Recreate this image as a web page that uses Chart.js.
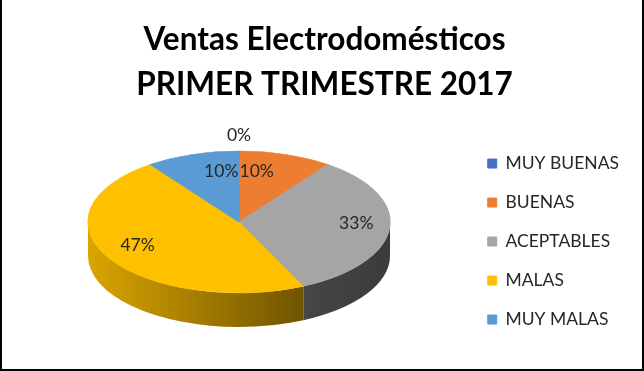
<!DOCTYPE html>
<html>
<head>
<meta charset="utf-8">
<script src="https://cdn.jsdelivr.net/npm/chart.js@4.4.1/dist/chart.umd.min.js"></script>
<style>
  html, body { margin: 0; padding: 0; background: #fff; }
  #wrap { position: relative; width: 644px; height: 371px; }
  #chart { display: block; }
  #frame {
    position: absolute; left: 0; top: 0; width: 644px; height: 371px;
    box-sizing: border-box; border: 2px solid #000; border-top: none;
    pointer-events: none;
  }
</style>
</head>
<body>
<div id="wrap">
  <canvas id="chart" width="644" height="371"></canvas>
  <div id="frame"></div>
</div>
<script>
// Data
const TITLE_LINES = ['Ventas Electrodomésticos', 'PRIMER TRIMESTRE 2017'];
const CATEGORIES = ['MUY BUENAS', 'BUENAS', 'ACEPTABLES', 'MALAS', 'MUY MALAS'];
const PERCENTS = [0, 10, 33, 47, 10];
const COLORS = ['#4472C4', '#ED7D31', '#A5A5A5', '#FFC000', '#5B9BD5'];

// Where the tilted pie sits on the page (ellipse + wall height)
const PIE = { cx: 239, cy: 222, rx: 151, ry: 71, depth: 34 };

function shade(hex, f) {
    const n = parseInt(hex.slice(1), 16);
    const r = Math.round(((n >> 16) & 255) * f);
    const g = Math.round(((n >> 8) & 255) * f);
    const b = Math.round((n & 255) * f);
    return `rgb(${r},${g},${b})`;
}

// Squash the library's pie into a tilted disc and add the front wall
const tiltedPie = {
    id: 'tiltedPie',
    beforeDatasetsDraw(chart) {
        const ctx = chart.ctx;
        const arcs = chart.getDatasetMeta(0).data;
        const { x, y, outerRadius } = arcs[0];

        // only the front half (0..PI) of the wall is visible
        arcs.forEach((arc, i) => {
            const a1 = Math.max(arc.startAngle, 0);
            const a2 = Math.min(arc.endAngle, Math.PI);
            if (a2 <= a1) return;
            const grad = ctx.createLinearGradient(PIE.cx - PIE.rx, 0, PIE.cx + PIE.rx, 0);
            grad.addColorStop(0, shade(COLORS[i], 0.86));
            grad.addColorStop(0.74, shade(COLORS[i], 0.42));
            grad.addColorStop(1, shade(COLORS[i], 0.36));
            ctx.save();
            ctx.beginPath();
            ctx.ellipse(PIE.cx, PIE.cy, PIE.rx, PIE.ry, 0, a1, a2, false);
            ctx.ellipse(PIE.cx, PIE.cy + PIE.depth, PIE.rx, PIE.ry, 0, a2, a1, true);
            ctx.closePath();
            ctx.fillStyle = grad;
            ctx.fill();
            ctx.restore();
        });

        ctx.save();
        ctx.translate(PIE.cx, PIE.cy);
        ctx.scale(PIE.rx / outerRadius, PIE.ry / outerRadius);
        ctx.translate(-x, -y);
    },
    afterDatasetsDraw(chart) {
        const ctx = chart.ctx;
        ctx.restore();

        // percentage labels
        const arcs = chart.getDatasetMeta(0).data;
        const total = PERCENTS.reduce((a, b) => a + b, 0);
        ctx.save();
        ctx.font = '17.5px Lato';
        ctx.fillStyle = '#262626';
        ctx.textAlign = 'center';
        ctx.textBaseline = 'middle';
        arcs.forEach((arc, i) => {
            const mid = (arc.startAngle + arc.endAngle) / 2;
            const share = PERCENTS[i] / total;
            let fx = 0.78, fy = 0.72;
            if (share === 0) { fx = 1.21; fy = 1.18; }
            else if (share < 0.15) { fx = 0.38; fy = 0.7; }
            const lx = PIE.cx + PIE.rx * fx * Math.cos(mid);
            const ly = PIE.cy - 3 + PIE.ry * fy * Math.sin(mid);
            ctx.fillText(Math.round(share * 100) + '%', lx, ly);
        });
        ctx.restore();
    }
};

new Chart(document.getElementById('chart'), {
    type: 'pie',
    data: {
        labels: CATEGORIES,
        datasets: [{
            data: PERCENTS,
            backgroundColor: COLORS,
            borderColor: COLORS,
            borderWidth: 1,
            clip: false
        }]
    },
    options: {
        responsive: false,
        animation: false,
        events: [],
        layout: { padding: { left: 20, right: 15 } },
        plugins: {
            title: {
                display: true,
                text: TITLE_LINES,
                color: '#000',
                font: { family: 'Lato', size: 31.5, weight: 'bold', lineHeight: 1.43 },
                padding: { top: 17, bottom: 5 }
            },
            legend: {
                position: 'right',
                fullSize: false,
                labels: {
                    color: '#262626',
                    font: { family: 'Lato', size: 17.5 },
                    boxWidth: 9,
                    boxHeight: 9,
                    padding: 21.5
                }
            },
            tooltip: { enabled: false }
        }
    },
    plugins: [tiltedPie]
});
</script>
</body>
</html>
